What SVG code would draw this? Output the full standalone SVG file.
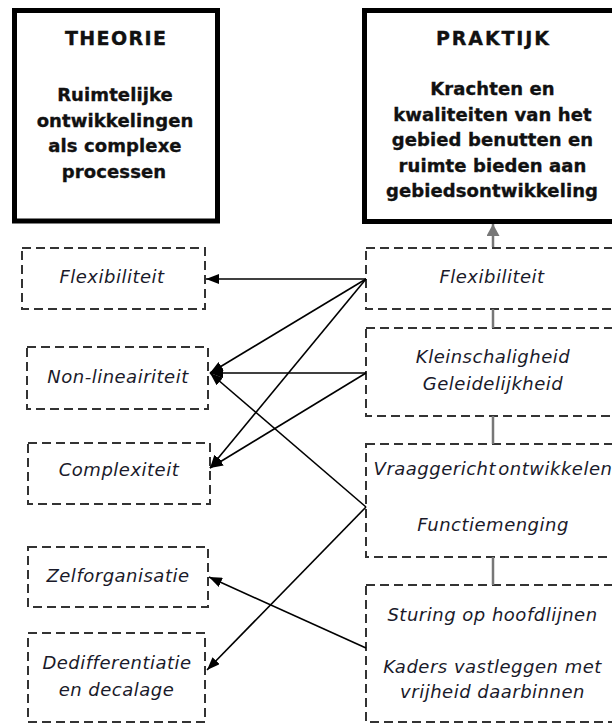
<svg xmlns="http://www.w3.org/2000/svg" width="612" height="724" viewBox="0 0 612 724">
<style>
.head{fill:#fff;stroke:#000;stroke-width:5}
.dash{fill:#fff;stroke:#333;stroke-width:2;stroke-dasharray:9 5}
.bt{font-family:"DejaVu Sans","Verdana",sans-serif;font-weight:bold;font-size:18px;fill:#111;stroke:#111;stroke-width:0.35;text-anchor:middle;letter-spacing:0.1px}
.hd{font-size:19px}
.it{font-family:"DejaVu Sans","Verdana",sans-serif;font-style:italic;font-size:18px;fill:#1a1a2a;text-anchor:middle;letter-spacing:0.5px}
.arr{stroke:#000;stroke-width:1.6;fill:none;marker-end:url(#ah)}
.gl{stroke:#777;stroke-width:2.5;fill:none}
</style>
<defs>
<marker id="ah" markerUnits="userSpaceOnUse" markerWidth="13" markerHeight="10" refX="13" refY="5" orient="auto">
<path d="M0,0 L13,5 L0,10 z" fill="#000"/>
</marker>
<marker id="gah" markerUnits="userSpaceOnUse" markerWidth="13" markerHeight="13" refX="12" refY="6.5" orient="auto">
<path d="M0,0 L12,6.5 L0,13 z" fill="#777"/>
</marker>
</defs>
<rect width="612" height="724" fill="#fff"/>

<g id="theorie">
<rect class="head" x="14.5" y="10.5" width="203" height="210.5"/>
<text class="bt hd" x="115.5" y="45" textLength="101" lengthAdjust="spacing">THEORIE</text>
<text class="bt" x="115" y="101">Ruimtelijke</text>
<text class="bt" x="115" y="126.5">ontwikkelingen</text>
<text class="bt" x="115" y="152">als complexe</text>
<text class="bt" x="114" y="177.5">processen</text>
</g>

<g id="praktijk">
<rect class="head" x="364.5" y="10.5" width="260" height="211"/>
<text class="bt hd" x="492.5" y="45" textLength="113" lengthAdjust="spacing">PRAKTIJK</text>
<text class="bt" x="492.5" y="95">Krachten en</text>
<text class="bt" x="492.5" y="120.5">kwaliteiten van het</text>
<text class="bt" x="492.5" y="146">gebied benutten en</text>
<text class="bt" x="492.5" y="171.5">ruimte bieden aan</text>
<text class="bt" x="492" y="197">gebiedsontwikkeling</text>
</g>

<g id="t-flex">
<rect class="dash" x="22" y="248" width="183" height="61"/>
<text class="it" x="112" y="283">Flexibiliteit</text>
</g>
<g id="t-nonlin">
<rect class="dash" x="27" y="347" width="181" height="62"/>
<text class="it" x="118" y="383">Non-lineairiteit</text>
</g>
<g id="t-complex">
<rect class="dash" x="28" y="443" width="182" height="61"/>
<text class="it" x="119" y="476">Complexiteit</text>
</g>
<g id="t-zelf">
<rect class="dash" x="28" y="547" width="180" height="60"/>
<text class="it" x="118" y="582">Zelforganisatie</text>
</g>
<g id="t-dediff">
<rect class="dash" x="28" y="633" width="177" height="89"/>
<text class="it" x="117" y="669">Dedifferentiatie</text>
<text class="it" x="116.5" y="696">en decalage</text>
</g>

<g id="p-flex">
<rect class="dash" x="366" y="248" width="260" height="61"/>
<text class="it" x="492" y="283">Flexibiliteit</text>
</g>
<g id="p-klein">
<rect class="dash" x="366" y="328" width="260" height="88"/>
<text class="it" x="493" y="363">Kleinschaligheid</text>
<text class="it" x="493" y="390">Geleidelijkheid</text>
</g>
<g id="p-vraag">
<rect class="dash" x="366" y="444" width="260" height="113"/>
<text class="it" x="493" y="475" word-spacing="-4">Vraaggericht ontwikkelen</text>
<text class="it" x="493" y="531">Functiemenging</text>
</g>
<g id="p-sturing">
<rect class="dash" x="366" y="585" width="260" height="137"/>
<text class="it" x="492.5" y="621">Sturing op hoofdlijnen</text>
<text class="it" x="492.5" y="673">Kaders vastleggen met</text>
<text class="it" x="492.5" y="698">vrijheid daarbinnen</text>
</g>

<g id="connectors">
<line class="gl" x1="493" y1="247" x2="493" y2="224" marker-end="url(#gah)"/>
<line class="gl" x1="493" y1="309" x2="493" y2="328"/>
<line class="gl" x1="493" y1="416" x2="493" y2="444"/>
<line class="gl" x1="493" y1="557" x2="493" y2="585"/>
<line class="arr" x1="366" y1="279" x2="206" y2="279"/>
<line class="arr" x1="366" y1="279" x2="210" y2="373"/>
<line class="arr" x1="366" y1="279" x2="210" y2="468"/>
<line class="arr" x1="366" y1="373" x2="210" y2="373"/>
<line class="arr" x1="366" y1="373" x2="210" y2="468"/>
<line class="arr" x1="366" y1="507" x2="210" y2="373"/>
<line class="arr" x1="366" y1="507" x2="207" y2="670"/>
<line class="arr" x1="366" y1="648" x2="209" y2="577"/>
</g>
</svg>
